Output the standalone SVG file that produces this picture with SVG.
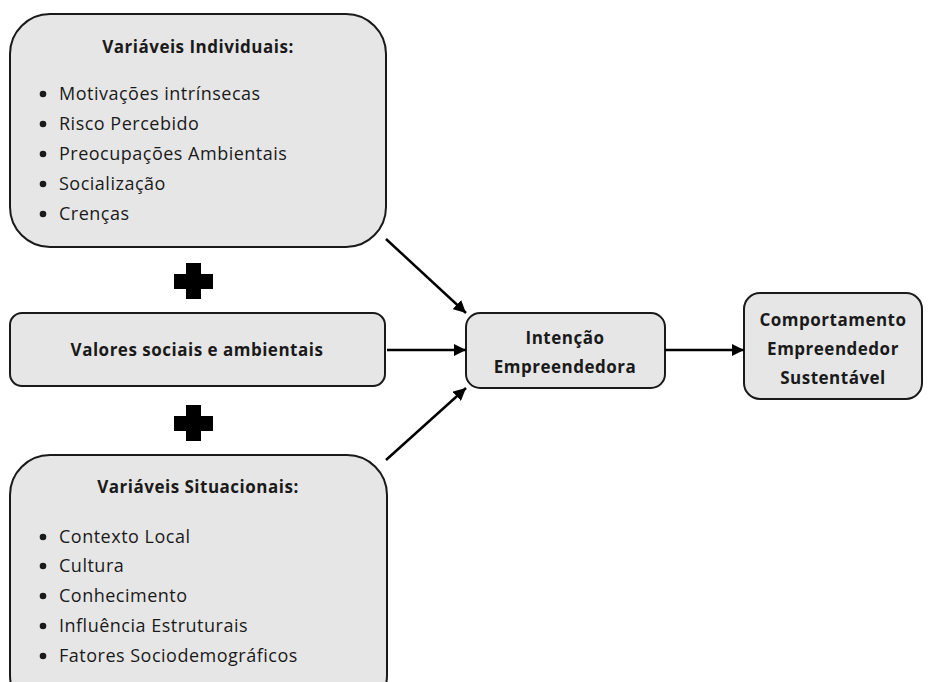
<svg xmlns="http://www.w3.org/2000/svg" width="934" height="682" viewBox="0 0 934 682">
  <style>
    .box { fill: #e6e6e6; stroke: #1a1a1a; stroke-width: 2; }
    .t { font-family: "Open Sans", "Noto Sans", "DejaVu Sans", sans-serif; fill: #1a1a1a; }
    .b { font-weight: bold; font-size: 17px; letter-spacing: 0.5px; text-anchor: middle; }
    .item { font-size: 18px; letter-spacing: 0.5px; }
    .dot { fill: #1a1a1a; }
    .edge { stroke: #000; stroke-width: 2.5; fill: none; marker-end: url(#arrow); }
    .plus { fill: #000; }
  </style>
  <defs>
    <marker id="arrow" viewBox="0 0 10 10" refX="10" refY="5" markerWidth="5" markerHeight="5" orient="auto" markerUnits="strokeWidth">
      <path d="M0,0 L10,5 L0,10 z" fill="#000"/>
    </marker>
  </defs>

  <rect width="934" height="682" fill="#fff"/>

  <g id="individuais">
    <rect class="box" x="10" y="14" width="376" height="233" rx="40" ry="40"/>
    <text class="t b" x="198" y="53">Variáveis Individuais:</text>
    <circle class="dot" cx="43" cy="94" r="3.3"/>
    <circle class="dot" cx="43" cy="124" r="3.3"/>
    <circle class="dot" cx="43" cy="154" r="3.3"/>
    <circle class="dot" cx="43" cy="184" r="3.3"/>
    <circle class="dot" cx="43" cy="214" r="3.3"/>
    <text class="t item" x="59" y="100">Motivações intrínsecas</text>
    <text class="t item" x="59" y="130">Risco Percebido</text>
    <text class="t item" x="59" y="160">Preocupações Ambientais</text>
    <text class="t item" x="59" y="190">Socialização</text>
    <text class="t item" x="59" y="220">Crenças</text>
  </g>

  <g id="plus-1">
    <rect class="plus" x="186" y="263" width="15" height="36"/>
    <rect class="plus" x="174" y="274" width="39" height="15"/>
  </g>

  <g id="valores">
    <rect class="box" x="10" y="313" width="375" height="73" rx="12" ry="12"/>
    <text class="t b" x="197" y="356">Valores sociais e ambientais</text>
  </g>

  <g id="plus-2">
    <rect class="plus" x="186" y="405" width="15" height="36"/>
    <rect class="plus" x="174" y="416" width="39" height="15"/>
  </g>

  <g id="situacionais">
    <rect class="box" x="10" y="455" width="377" height="260" rx="40" ry="40"/>
    <text class="t b" x="198" y="493">Variáveis Situacionais:</text>
    <circle class="dot" cx="43" cy="537" r="3.3"/>
    <circle class="dot" cx="43" cy="566" r="3.3"/>
    <circle class="dot" cx="43" cy="596" r="3.3"/>
    <circle class="dot" cx="43" cy="626" r="3.3"/>
    <circle class="dot" cx="43" cy="656" r="3.3"/>
    <text class="t item" x="59" y="543">Contexto Local</text>
    <text class="t item" x="59" y="572">Cultura</text>
    <text class="t item" x="59" y="602">Conhecimento</text>
    <text class="t item" x="59" y="632">Influência Estruturais</text>
    <text class="t item" x="59" y="662">Fatores Sociodemográficos</text>
  </g>

  <g id="intencao">
    <rect class="box" x="466" y="313" width="199" height="75" rx="14" ry="14"/>
    <text class="t b" x="565" y="344">Intenção</text>
    <text class="t b" x="565" y="373">Empreendedora</text>
  </g>

  <g id="comportamento">
    <rect class="box" x="744" y="293" width="178" height="106" rx="16" ry="16"/>
    <text class="t b" x="833" y="326">Comportamento</text>
    <text class="t b" x="833" y="355">Empreendedor</text>
    <text class="t b" x="833" y="384">Sustentável</text>
  </g>

  <g id="connectors">
    <line class="edge" x1="386" y1="239" x2="466" y2="313"/>
    <line class="edge" x1="387" y1="350" x2="466" y2="350"/>
    <line class="edge" x1="386" y1="460" x2="466" y2="388"/>
    <line class="edge" x1="665" y1="350" x2="744" y2="350"/>
  </g>
</svg>
